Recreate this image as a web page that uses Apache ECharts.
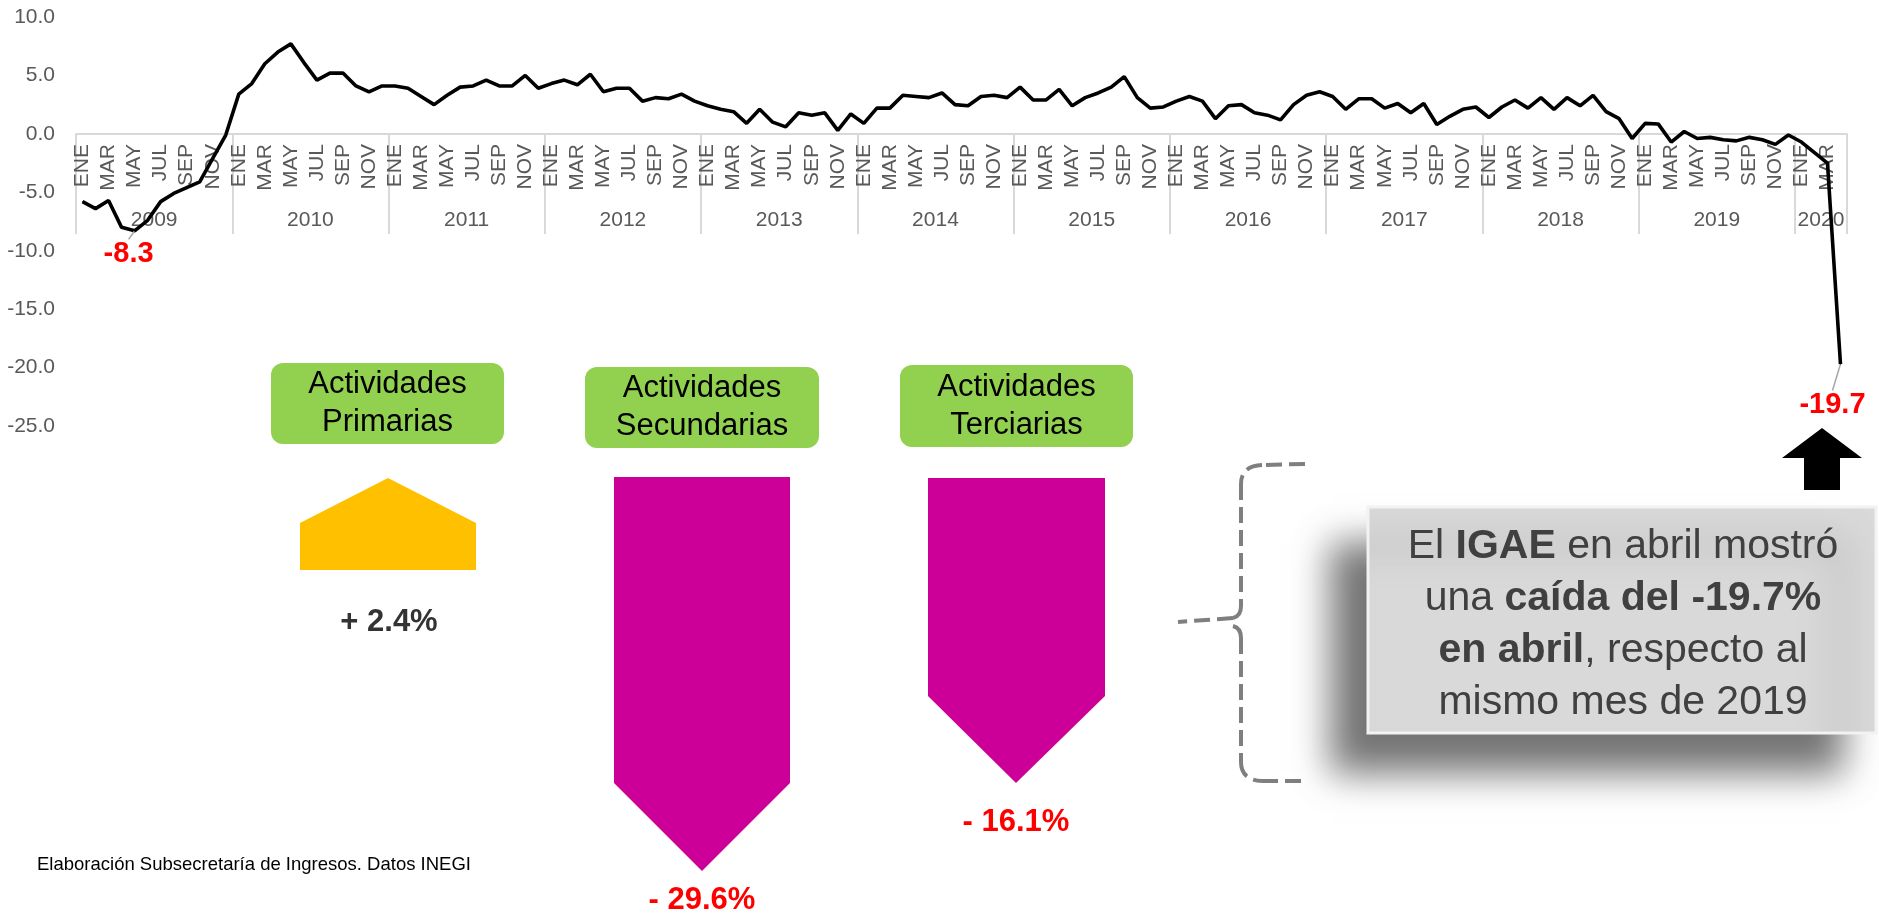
<!DOCTYPE html>
<html>
<head>
<meta charset="utf-8">
<script src="https://cdn.jsdelivr.net/npm/echarts@6/dist/echarts.min.js"></script>
<style>
  html, body { margin: 0; padding: 0; background: #fff; }
  #chart { width: 1879px; height: 915px; }
</style>
</head>
<body>
<div id="chart"></div>
<script>
// IGAE, variación anual (%), ene 2009 - abr 2020
const monthNames = ["ENE", "FEB", "MAR", "ABR", "MAY", "JUN", "JUL", "AGO", "SEP", "OCT", "NOV", "DIC"];
const years = [2009, 2010, 2011, 2012, 2013, 2014, 2015, 2016, 2017, 2018, 2019, 2020];
const monthsInYear = [12, 12, 12, 12, 12, 12, 12, 12, 12, 12, 12, 4];
const igae = [
  -5.8, -6.4, -5.7, -8.0, -8.3, -7.4, -5.8, -5.1, -4.6, -4.1, -2.1, -0.1,
  3.4, 4.3, 6.0, 7.0, 7.7, 6.1, 4.6, 5.2, 5.2, 4.1, 3.6, 4.1,
  4.1, 3.9, 3.2, 2.5, 3.3, 4.0, 4.1, 4.6, 4.1, 4.1, 5.0, 3.9,
  4.3, 4.6, 4.2, 5.1, 3.6, 3.9, 3.9, 2.8, 3.1, 3.0, 3.4, 2.8,
  2.4, 2.1, 1.9, 0.9, 2.1, 1.0, 0.6, 1.8, 1.6, 1.8, 0.3, 1.7,
  0.9, 2.2, 2.2, 3.3, 3.2, 3.1, 3.5, 2.5, 2.4, 3.2, 3.3, 3.1,
  4.0, 2.9, 2.9, 3.8, 2.4, 3.1, 3.5, 4.0, 4.9, 3.1, 2.2, 2.3,
  2.8, 3.2, 2.8, 1.3, 2.4, 2.5, 1.8, 1.6, 1.2, 2.5, 3.3, 3.6,
  3.2, 2.1, 3.0, 3.0, 2.2, 2.6, 1.8, 2.6, 0.8, 1.5, 2.1, 2.3,
  1.4, 2.3, 2.9, 2.2, 3.1, 2.1, 3.1, 2.4, 3.3, 1.9, 1.3, -0.4,
  0.9, 0.85, -0.7, 0.2, -0.4, -0.3, -0.5, -0.6, -0.3, -0.5, -0.9, -0.1,
  -0.7, -1.6, -2.5, -19.7
];
const yTicks = { min: -25, max: 10, step: 5 };

// variación por sector
const sectorNames = ["Actividades\nPrimarias", "Actividades\nSecundarias", "Actividades\nTerciarias"];
const sectorChange = [2.4, -29.6, -16.1];

const FONT = "'Liberation Sans', Arial, sans-serif";

// categories "ENE 2009" ...
const categories = [];
years.forEach((y, yi) => {
  for (let m = 0; m < monthsInYear[yi]; m++) categories.push(monthNames[m] + " " + y);
});
const yearStart = [];
let acc = 0;
monthsInYear.forEach((n) => { yearStart.push(acc); acc += n; });
// label index near each year's middle (label shifted half a band to the left)
const yearLabelIdx = yearStart.map((s, i) => s + Math.ceil(monthsInYear[i] / 2));

const lastIdx = igae.length - 1;
const minIdx = igae.indexOf(Math.min(...igae.slice(0, 12)));

// grid: 10 -> y 17, -25 -> y 426 ; zero line at y 134
const GRID_TOP = 17, GRID_BOTTOM = 489, PLOT_H = 915 - GRID_TOP - GRID_BOTTOM;
const zeroOffset = -Math.round(PLOT_H * (0 - yTicks.min) / (yTicks.max - yTicks.min));

const chart = echarts.init(document.getElementById("chart"));

const pctText = (v) => (v > 0 ? "+ " : "- ") + Math.abs(v).toFixed(1) + "%";

const boxes = [
  { x: 271, y: 363, w: 233, h: 81 },
  { x: 585, y: 367, w: 234, h: 81 },
  { x: 900, y: 365, w: 233, h: 82 },
];
const arrows = [
  [[300, 523], [388, 478], [476, 523], [476, 570], [300, 570]],
  [[614, 477], [790, 477], [790, 783], [702, 871], [614, 783]],
  [[928, 478], [1105, 478], [1105, 696], [1016, 783], [928, 696]],
];
const pctPos = [[389, 622], [702, 900], [1016, 822]];

const graphics = [];
boxes.forEach((b, i) => {
  graphics.push({
    type: "rect",
    shape: { x: b.x, y: b.y, width: b.w, height: b.h, r: 12 },
    style: { fill: "#92d050" },
  });
  graphics.push({
    type: "text",
    x: b.x + b.w / 2,
    y: b.y + b.h / 2,
    style: {
      text: sectorNames[i],
      fill: "#000",
      font: "31px " + FONT,
      lineHeight: 38,
      textAlign: "center",
      textVerticalAlign: "middle",
    },
  });
  graphics.push({
    type: "polygon",
    shape: { points: arrows[i] },
    style: { fill: sectorChange[i] > 0 ? "#ffc000" : "#cc0099" },
  });
  graphics.push({
    type: "text",
    x: pctPos[i][0],
    y: pctPos[i][1],
    style: {
      text: pctText(sectorChange[i]),
      fill: sectorChange[i] > 0 ? "#333333" : "#ff0000",
      font: "bold 31px " + FONT,
      textAlign: "center",
      textVerticalAlign: "middle",
    },
  });
});

// llave punteada
const braceStyle = { fill: null, stroke: "#7f7f7f", lineWidth: 4, lineDash: [16, 7] };
const braceSegs = [
  { type: "line", shape: { x1: 1305, y1: 464, x2: 1262, y2: 465 } },
  { type: "bezierCurve", shape: { x1: 1262, y1: 465, cpx1: 1241, cpy1: 466, x2: 1241, y2: 484 } },
  { type: "line", shape: { x1: 1241, y1: 484, x2: 1241, y2: 606 } },
  { type: "bezierCurve", shape: { x1: 1241, y1: 606, cpx1: 1241, cpy1: 616, x2: 1233, y2: 618 } },
  { type: "line", shape: { x1: 1233, y1: 618, x2: 1178, y2: 622 } },
  { type: "bezierCurve", shape: { x1: 1233, y1: 626, cpx1: 1241, cpy1: 628, x2: 1241, y2: 638 } },
  { type: "line", shape: { x1: 1241, y1: 638, x2: 1241, y2: 762 } },
  { type: "bezierCurve", shape: { x1: 1241, y1: 762, cpx1: 1241, cpy1: 780, x2: 1262, y2: 781 } },
  { type: "line", shape: { x1: 1262, y1: 781, x2: 1305, y2: 781 } },
];
braceSegs.forEach((s) => graphics.push(Object.assign({ style: braceStyle }, s)));

// cuadro de texto
graphics.push({
  type: "rect",
  shape: { x: 1368, y: 507, width: 508, height: 226 },
  style: {
    fill: "#d9d9d9",
    stroke: "#f2f2f2",
    lineWidth: 3,
    shadowColor: "rgba(0,0,0,0.55)",
    shadowBlur: 35,
    shadowOffsetX: -35,
    shadowOffsetY: 38,
  },
});
graphics.push({
  type: "text",
  x: 1623,
  y: 625,
  style: {
    text: "El {b|IGAE} en abril mostró\nuna {b|caída del -19.7%}\n{b|en abril}, respecto al\nmismo mes de 2019",
    fill: "#404040",
    font: "41px " + FONT,
    lineHeight: 52,
    textAlign: "center",
    textVerticalAlign: "middle",
    rich: {
      b: { fontWeight: "bold", fontSize: 41, fontFamily: FONT, fill: "#404040", lineHeight: 52 },
    },
  },
});

// flecha negra
graphics.push({
  type: "polygon",
  shape: { points: [[1822, 428], [1862, 458], [1840, 458], [1840, 490], [1804, 490], [1804, 458], [1782, 458]] },
  style: { fill: "#000" },
});

// fuente
graphics.push({
  type: "text",
  x: 37,
  y: 865,
  style: {
    text: "Elaboración Subsecretaría de Ingresos. Datos INEGI",
    fill: "#000",
    font: "18.5px " + FONT,
    textAlign: "left",
    textVerticalAlign: "middle",
  },
});

chart.setOption({
  animation: false,
  backgroundColor: "#fff",
  textStyle: { fontFamily: FONT },
  grid: { left: 76, right: 32, top: GRID_TOP, bottom: GRID_BOTTOM, containLabel: false },
  xAxis: [
    {
      type: "category",
      data: categories,
      boundaryGap: true,
      position: "bottom",
      offset: zeroOffset,
      axisLine: { onZero: false, lineStyle: { color: "#d9d9d9", width: 2 } },
      axisTick: {
        show: true,
        interval: (idx) => yearStart.includes(idx),
        length: 100,
        lineStyle: { color: "#d9d9d9", width: 2 },
      },
      axisLabel: {
        interval: 1,
        rotate: 90,
        margin: 10,
        fontSize: 21,
        color: "#595959",
        fontFamily: FONT,
        formatter: (v) => v.split(" ")[0],
      },
      splitLine: { show: false },
      z: 1,
    },
    {
      type: "category",
      data: categories,
      position: "bottom",
      offset: zeroOffset,
      axisLine: { show: false, onZero: false },
      axisTick: { show: false },
      axisLabel: {
        interval: (idx) => yearLabelIdx.includes(idx),
        margin: 76,
        fontSize: 21,
        color: "#595959",
        fontFamily: FONT,
        formatter: (v) => "{y|" + v.split(" ")[1] + "}",
        rich: { y: { fontSize: 21, color: "#595959", fontFamily: FONT, padding: [0, 13, 0, 0] } },
      },
      splitLine: { show: false },
      z: 1,
    },
  ],
  yAxis: {
    type: "value",
    min: yTicks.min,
    max: yTicks.max,
    interval: yTicks.step,
    axisLine: { show: false },
    axisTick: { show: false },
    splitLine: { show: false },
    axisLabel: {
      fontSize: 21,
      color: "#595959",
      margin: 21,
      fontFamily: FONT,
      formatter: (v) => v.toFixed(1),
    },
  },
  series: [
    {
      type: "line",
      xAxisIndex: 0,
      data: igae.map((v, i) => (i === minIdx || i === lastIdx ? { value: v, label: { show: true } } : v)),
      showSymbol: true,
      symbol: "circle",
      symbolSize: 1,
      itemStyle: { color: "#000" },
      lineStyle: { color: "#000", width: 3.6 },
      label: {
        show: false,
        position: "bottom",
        distance: 8,
        color: "#ff0000",
        fontWeight: "bold",
        fontSize: 29,
        fontFamily: FONT,
        formatter: (p) => Number(p.value).toFixed(1),
      },
      labelLayout: (params) => (params.dataIndex === lastIdx ? { dx: -8, dy: 18 } : { dx: -6 }),
      labelLine: { show: true, lineStyle: { color: "#a6a6a6", width: 1.5 } },
      z: 5,
    },
  ],
  graphic: { elements: graphics },
});
</script>
</body>
</html>
